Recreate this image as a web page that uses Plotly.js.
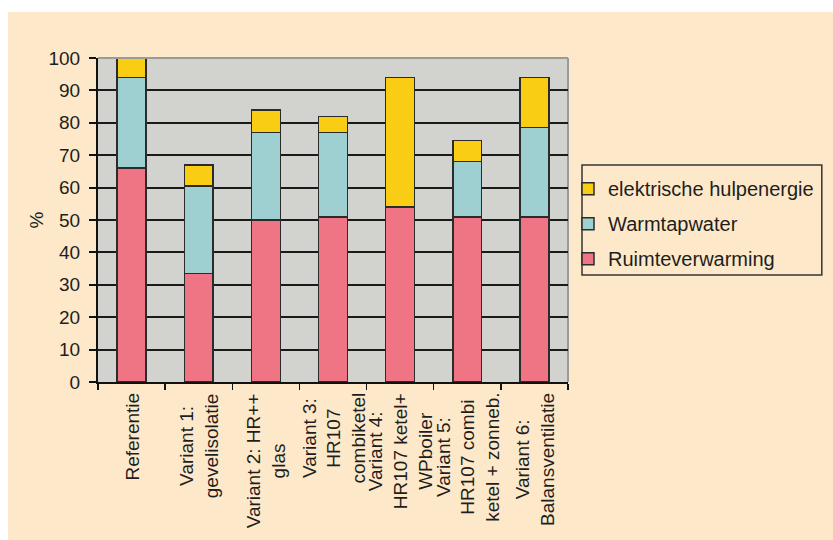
<!DOCTYPE html>
<html>
<head>
<meta charset="utf-8">
<script src="https://cdn.plot.ly/plotly-3.0.1.min.js"></script>
<style>
  html, body { margin: 0; padding: 0; background: #ffffff; }
  #chart { position: absolute; left: 8px; top: 12px; width: 825px; height: 528px; }
</style>
</head>
<body>
<div id="chart"></div>
<script>
// Energy use per variant, as a percentage of the reference dwelling
const categories = ["Referentie", "Variant 1", "Variant 2", "Variant 3", "Variant 4", "Variant 5", "Variant 6"];
const tickLabels = [
  "Referentie",
  "Variant 1:<br>gevelisolatie",
  "Variant 2: HR++<br>glas",
  "Variant 3:<br>HR107<br>combiketel",
  "Variant 4:<br>HR107 ketel+<br>WPboiler",
  "Variant 5:<br>HR107 combi<br>ketel + zonneb.",
  "Variant 6:<br>Balansventilatie"
];
const ruimteverwarming = [66, 33.5, 50, 51, 54, 51, 51];
const warmtapwater     = [28, 27, 27, 26, 0, 17, 27.5];
const hulpenergie      = [6, 6.5, 7, 5, 40, 6.5, 15.5];

const lineCol = "#2b2b2b";
const txt = "#1e1e1e";
const fontSize = 19;

function series(name, values, color, rank) {
  return {
    type: "bar", name: name, x: categories, y: values,
    legendgroup: name, legendrank: rank,
    marker: { color: color, line: { color: lineCol, width: 1.5 } },
    hoverinfo: "y+name"
  };
}

const data = [
  series("Ruimteverwarming", ruimteverwarming, "#f07584", 3),
  series("Warmtapwater", warmtapwater, "#9fd0d1", 2),
  series("elektrische hulpenergie", hulpenergie, "#f9cd14", 1)
];

// Category labels: rotated, lines centred on each other
const labelNotes = categories.map((c, i) => ({
  xref: "x", yref: "paper", x: c, y: 0,
  xanchor: "center", yanchor: "top", yshift: -9,
  text: tickLabels[i], textangle: -90, align: "center",
  showarrow: false, font: { size: fontSize, color: txt }
}));

const layout = {
  width: 825, height: 528,
  margin: { l: 90, r: 265, t: 46, b: 158 },
  paper_bgcolor: "#fde9c9",
  plot_bgcolor: "#d2d2ce",
  barmode: "stack",
  bargap: 0.57,
  font: { family: "Liberation Sans, Arial, sans-serif", color: txt },
  showlegend: true,
  legend: {
    x: 1.0, y: 0.657, xanchor: "left", yanchor: "top",
    bgcolor: "rgba(0,0,0,0)", borderwidth: 0,
    font: { size: 20, color: txt },
    traceorder: "grouped", tracegroupgap: 6,
    itemwidth: 30
  },
  xaxis: {
    type: "category",
    showticklabels: false,
    showline: true, linecolor: "#111111", linewidth: 2,
    ticks: "outside", tickson: "boundaries", ticklen: 6, tickcolor: "#111111", tickwidth: 1.5,
    showgrid: false, fixedrange: true
  },
  yaxis: {
    range: [0, 100],
    tickvals: [0, 10, 20, 30, 40, 50, 60, 70, 80, 90, 100],
    tickfont: { size: fontSize, color: txt },
    ticklabelstandoff: 5,
    showline: true, linecolor: "#111111", linewidth: 2,
    ticks: "outside", ticklen: 7, tickcolor: "#111111", tickwidth: 2,
    showgrid: true, gridcolor: "#1a1a1a", gridwidth: 2,
    zeroline: false,
    title: { text: "%", font: { size: fontSize, color: txt }, standoff: 0 },
    fixedrange: true
  },
  annotations: labelNotes,
  shapes: [
    // light frame on the top and right of the plot area
    { type: "line", xref: "paper", yref: "paper", x0: 0, x1: 1, y0: 1, y1: 1,
      line: { color: "#9a9a96", width: 2 }, layer: "above" },
    { type: "line", xref: "paper", yref: "paper", x0: 1, x1: 1, y0: 0, y1: 1,
      line: { color: "#9a9a96", width: 2 }, layer: "below" },
    // legend frame
    { type: "rect", xref: "paper", yref: "paper", x0: 1.0298, x1: 1.540, y0: 0.330, y1: 0.6698,
      line: { color: "#333333", width: 1.5 }, fillcolor: "rgba(0,0,0,0)", layer: "above" }
  ]
};

Plotly.newPlot("chart", data, layout, { displayModeBar: false, staticPlot: true });
</script>
</body>
</html>
